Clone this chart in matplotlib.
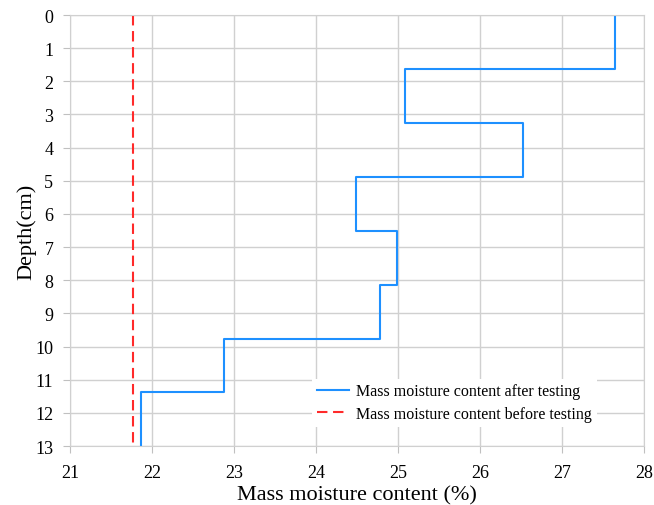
import matplotlib.pyplot as plt

plt.rcParams['font.family'] = ['Liberation Serif', 'DejaVu Serif']

# layer boundaries (cm) and moisture content (%) after testing
depth_edges = [0, 1.63, 3.25, 4.88, 6.5, 8.13, 9.77, 11.38, 13]
moisture_after = [27.65, 25.08, 26.52, 24.49, 24.99, 24.78, 22.88, 21.87]
moisture_before = 21.77

# build step outline
xs, ys = [], []
for i, m in enumerate(moisture_after):
    xs += [m, m]
    ys += [depth_edges[i], depth_edges[i + 1]]

fig = plt.figure(figsize=(6.54, 5.06), dpi=100)
ax = fig.add_axes([0.107, 0.1166, 0.878, 0.8517])

ax.plot(xs, ys, color='#1E90FF', lw=1.5, label='Mass moisture content after testing')
ax.plot([moisture_before, moisture_before], [0, 13], color='#FF2A2A', lw=1.5,
        ls=(0, (5, 2.7)), label='Mass moisture content before testing')

ax.set_xlim(21, 28)
ax.set_ylim(13, 0)
ax.set_xticks(range(21, 29))
ax.set_yticks(range(0, 14))
ax.grid(True, color='#d0d0d0', lw=1)
ax.set_axisbelow(True)
for s in ax.spines.values():
    s.set_color('#d0d0d0')
ax.tick_params(axis='both', length=5, color='#c0c0c0', labelsize=13)
ax.tick_params(axis='x', pad=8)
ax.tick_params(axis='y', pad=7)

ax.set_xlabel('Mass moisture content (%)', fontsize=16, labelpad=3)
ax.set_ylabel('Depth(cm)', fontsize=16, labelpad=-1)

leg = ax.legend(loc='upper left', bbox_to_anchor=(0.408, 0.175), frameon=True,
                fontsize=11.5, handlelength=2.0, borderpad=0.3, labelspacing=0.4,
                handletextpad=0.45, fancybox=False)
leg.get_frame().set_edgecolor('none')
leg.get_frame().set_facecolor('white')
leg.get_frame().set_alpha(1)

fig.savefig('out.png', dpi=100)
